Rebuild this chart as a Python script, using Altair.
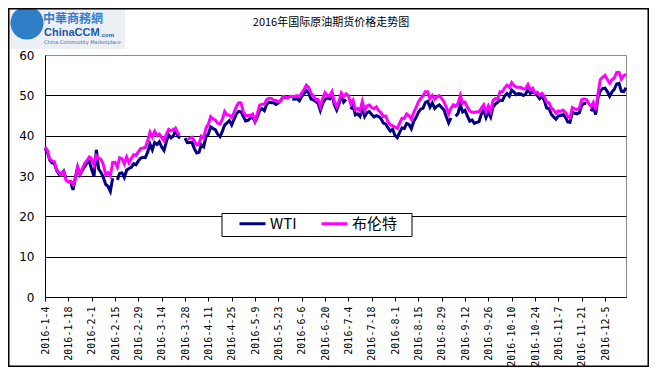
import altair as alt
import pandas as pd

# ---------------- data ----------------
dates = [f"{d.year}-{d.month}-{d.day}" for d in pd.bdate_range("2016-01-04", "2016-12-16")]

tick_labels = ["2016-1-4", "2016-1-18", "2016-2-1", "2016-2-15", "2016-2-29", "2016-3-14",
               "2016-3-28", "2016-4-11", "2016-4-25", "2016-5-9", "2016-5-23", "2016-6-6",
               "2016-6-20", "2016-7-4", "2016-7-18", "2016-8-1", "2016-8-15", "2016-8-29",
               "2016-9-12", "2016-9-26", "2016-10-10", "2016-10-24", "2016-11-7", "2016-11-21",
               "2016-12-5"]

series_names = ["WTI", "布伦特"]
series_colors = ["#000080", "#FF00FF"]

wti = [
    # Jan
    36.76, 35.97, 33.97, 33.27, 33.16, 31.41, 30.44, 30.48, 31.20, 29.42,
    None, 28.46, 26.55, 29.53, 32.19, 30.34, 31.45, 32.30, 33.22, 33.62,
    # Feb
    31.62, 29.88, 36.50, 31.72, 30.89, 29.69, 27.94, 27.45, 26.21, 29.44,
    None, 29.04, 30.66, 30.77, 29.64, 31.48, 31.87, 32.15, 33.07, 32.78, 33.75,
    # Mar
    34.40, 34.66, 34.57, 35.92, 37.90, 36.50, 38.29, 37.84, 38.50, 37.18,
    36.34, 38.46, 40.20, 39.44, 39.91, 41.45, 39.79, 39.46, None, 39.39,
    38.28, 38.32, 38.34,
    # Apr
    36.79, 35.70, 35.89, 37.75, 37.26, 39.72, 40.36, 42.17, 41.76, 41.50,
    40.36, 39.78, 41.08, 42.63, 43.18, 43.73, 42.64, 44.04, 45.33, 46.03, 45.92,
    # May
    44.78, 43.65, 43.78, 44.32, 44.66, 43.44, 44.66, 46.23, 46.70, 46.21,
    47.72, 48.31, 48.19, 48.16, 47.75, 48.08, 48.62, 49.56, 49.48, 49.33, None, 49.10,
    # Jun
    49.01, 49.17, 48.62, 49.69, 50.36, 51.23, 50.56, 49.07, 48.88, 48.49,
    48.01, 46.21, 47.98, 48.96, 49.37, 49.13, 50.11, 47.64, 46.33, 47.85, 49.88, 48.33,
    # Jul
    48.99, None, 46.60, 47.43, 45.14, 45.41, 44.76, 46.80, 44.75, 45.68,
    45.95, 45.24, 44.65, 44.94, 44.75, 44.19, 43.13, 42.92, 41.92, 41.14, 41.60,
    # Aug
    40.06, 39.51, 40.83, 41.93, 41.80, 43.02, 42.77, 41.71, 43.49, 44.49,
    45.74, 46.58, 46.79, 48.22, 48.52, 47.05, 48.10, 46.77, 47.33, 47.64,
    46.98, 46.35, 44.70,
    # Sep
    43.16, 44.44, None, 44.83, 45.50, 47.62, 45.88, 46.29, 44.90, 43.58,
    43.91, 43.03, 43.30, 43.44, 45.34, 46.32, 44.48, 45.93, 44.67, 47.05, 47.83, 48.24,
    # Oct
    48.81, 48.69, 49.83, 50.44, 49.81, 51.35, 50.79, 50.18, 50.44, 50.35,
    49.94, 50.29, 51.60, 50.43, 50.85, 50.52, 49.96, 49.18, 49.72, 48.70, 46.86,
    # Nov
    46.67, 45.34, 44.66, 44.07, 44.89, 44.98, 45.27, 44.66, 43.41, 43.32,
    45.81, 45.57, 45.42, 45.69, 47.49, 48.03, 47.96, None, 46.06, 47.08, 45.23, 49.44,
    # Dec
    51.06, 51.68, 51.79, 50.93, 49.77, 50.84, 51.50, 52.83, 52.98, 51.04, 50.90, 51.90,
]

brent = [
    # Jan
    37.22, 36.42, 34.23, 33.75, 33.55, 31.55, 30.86, 30.31, 31.03, 28.94,
    28.55, 28.76, 27.88, 29.25, 32.18, 30.50, 31.80, 33.10, 33.89, 34.74,
    # Feb
    34.24, 32.72, 35.04, 34.46, 34.06, 32.88, 30.32, 30.84, 30.06, 33.36,
    33.39, 32.18, 34.50, 34.28, 33.01, 34.69, 33.27, 34.41, 35.29, 35.10, 35.97,
    # Mar
    36.81, 36.93, 37.07, 38.72, 40.84, 39.65, 41.07, 40.05, 40.39, 39.53,
    38.74, 40.33, 41.54, 41.20, 41.54, 41.79, 40.47, 40.44, None, None,
    39.14, 39.26, 39.60,
    # Apr
    38.67, 37.69, 37.87, 39.84, 39.43, 41.94, 42.83, 44.69, 44.18, 43.84,
    43.10, 42.91, 44.03, 46.02, 45.18, 45.11, 44.48, 45.74, 47.18, 48.14, 48.13,
    # May
    45.83, 44.97, 45.01, 45.01, 45.37, 43.63, 45.52, 47.59, 47.81, 47.83,
    48.97, 49.28, 49.25, 48.81, 48.72, 48.35, 48.61, 49.74, 49.59, 49.32, 49.76, 49.69,
    # Jun
    49.72, 49.95, 49.64, 50.55, 51.44, 52.51, 51.95, 50.54, 49.83, 48.97,
    48.97, 47.19, 49.17, 50.65, 49.96, 49.88, 50.91, 48.41, 47.16, 48.58, 50.61, 49.68,
    # Jul
    50.35, 49.90, 47.96, 48.80, 46.40, 46.76, 46.25, 48.47, 46.26, 47.37,
    47.61, 46.96, 46.66, 47.17, 46.20, 45.69, 44.72, 44.87, 43.47, 42.70, 42.46,
    # Aug
    42.14, 41.80, 43.10, 44.29, 44.27, 45.39, 44.98, 44.05, 45.72, 46.97,
    48.35, 49.23, 49.85, 50.89, 50.88, 49.16, 49.96, 49.05, 49.67, 49.92,
    49.26, 48.37, 47.04,
    # Sep
    45.45, 46.83, 47.63, 47.26, 47.98, 49.99, 48.01, 48.32, 47.10, 46.10,
    45.85, 45.77, 45.95, 45.88, 46.83, 47.65, 45.89, 47.35, 45.97, 48.69, 49.24, 49.06,
    # Oct
    50.89, 50.87, 51.86, 52.51, 51.93, 53.14, 52.41, 52.03, 52.03, 51.95,
    51.52, 51.68, 52.67, 51.38, 51.78, 50.52, 50.79, 49.98, 50.47, 49.71, 48.30,
    # Nov
    48.14, 46.86, 46.35, 45.58, 46.15, 46.04, 46.36, 45.84, 44.75, 44.43,
    46.95, 46.63, 46.49, 46.86, 48.90, 49.12, 48.95, 48.00, 47.24, 48.24, 46.38, 50.47,
    # Dec
    53.94, 54.46, 54.94, 53.93, 53.00, 53.89, 54.33, 55.69, 55.72, 54.02, 54.90, 55.21,
]

title_text = "2016年国际原油期货价格走势图"

# ---------------- layout ----------------
W, H = 581, 242
PAD_L, PAD_T, PAD_R, PAD_B = 37, 47, 23, 70

df = pd.DataFrame({
    "date": dates + dates,
    "price": wti + brent,
    "series": [series_names[0]] * len(dates) + [series_names[1]] * len(dates),
})

one = pd.DataFrame({"k": [0]})

lines = alt.Chart(df).mark_line(
    strokeWidth=3, invalid="break-paths-show-domains"
).encode(
    x=alt.X("date:O", sort=None,
            scale=alt.Scale(type="point", padding=0),
            axis=alt.Axis(values=tick_labels, labelAngle=-90, title=None, grid=False,
                          domainColor="black", tickColor="black", tickSize=4,
                          labelFont="DejaVu Sans Mono", labelFontSize=10, labelColor="black",
                          labelPadding=5, labelOverlap=False)),
    y=alt.Y("price:Q",
            scale=alt.Scale(domain=[0, 60], nice=False, zero=True),
            axis=alt.Axis(values=[0, 10, 20, 30, 40, 50, 60], title=None, ticks=False,
                          domainColor="black", grid=True,
                          gridColor={"condition": {"test": "datum.value >= 60", "value": "#8c8c8c"},
                                     "value": "#000000"},
                          labelFont="DejaVu Sans", labelFontSize=12, labelColor="black",
                          labelPadding=11)),
    color=alt.Color("series:N", sort=series_names,
                    scale=alt.Scale(domain=series_names, range=series_colors),
                    legend=alt.Legend(title=None, orient="none", legendX=193, legendY=154,
                                      direction="horizontal", symbolType="stroke",
                                      symbolStrokeWidth=3, symbolSize=676,
                                      labelFont="Noto Sans CJK SC", labelFontSize=15,
                                      labelColor="black", labelOffset=3,
                                      padding=0, columnPadding=18)),
)

# legend frame (white box with black border, behind the legend entries)
legend_box = alt.Chart(one).mark_rect(fill="white", stroke="black", strokeWidth=1).encode(
    x=alt.value(177), x2=alt.value(367), y=alt.value(158.5), y2=alt.value(181.5))

title = alt.Chart(one).mark_text(
    font="Noto Sans CJK SC", fontSize=11, color="black", align="center", baseline="middle"
).encode(x=alt.value(286), y=alt.value(-32), text=alt.value(title_text))

# logo
logo_bg = alt.Chart(one).mark_rect(fill="#eceff3").encode(
    x=alt.value(-40), x2=alt.value(80), y=alt.value(-52), y2=alt.value(-6))
globe = alt.Chart(one).mark_circle(size=1100, color="#2f7fc6", opacity=1).encode(
    x=alt.value(-18), y=alt.value(-32))
logo_cn = alt.Chart(one).mark_text(
    font="Noto Sans CJK SC", fontSize=12, fontWeight="bold", color="#2f80d0",
    align="left", baseline="middle").encode(
    x=alt.value(-2), y=alt.value(-36.5), text=alt.value("中華商務網"))
logo_en = alt.Chart(one).mark_text(
    font="Liberation Sans", fontSize=11, fontWeight="bold", color="#1b5aa5",
    align="left", baseline="middle").encode(
    x=alt.value(-1), y=alt.value(-22), text=alt.value("ChinaCCM"))
logo_com = alt.Chart(one).mark_text(
    font="Liberation Sans", fontSize=6, fontWeight="bold", color="#1b5aa5",
    align="left", baseline="middle").encode(
    x=alt.value(55), y=alt.value(-20), text=alt.value(".com"))
logo_sub = alt.Chart(one).mark_text(
    font="DejaVu Sans", fontSize=5, color="#4a6c95",
    align="left", baseline="middle").encode(
    x=alt.value(-1), y=alt.value(-13), text=alt.value("China Commodity Marketplace"))

frame = alt.Chart(one).mark_rect(fillOpacity=0, stroke="black", strokeWidth=1.5).encode(
    x=alt.value(-PAD_L + 0.75), x2=alt.value(W + PAD_R - 0.75),
    y=alt.value(-PAD_T + 0.75), y2=alt.value(H + PAD_B - 0.75))

chart = alt.layer(
    logo_bg, globe, logo_cn, logo_en, logo_com, logo_sub, title, legend_box, lines, frame
).properties(
    width=W, height=H,
    autosize=alt.AutoSizeParams(type="none"),
    padding={"left": PAD_L, "top": PAD_T, "right": PAD_R, "bottom": PAD_B},
    background="white",
).configure_view(stroke="#8c8c8c", strokeWidth=1)

chart.save("out.html", embed_options={"renderer": "svg", "actions": False})
